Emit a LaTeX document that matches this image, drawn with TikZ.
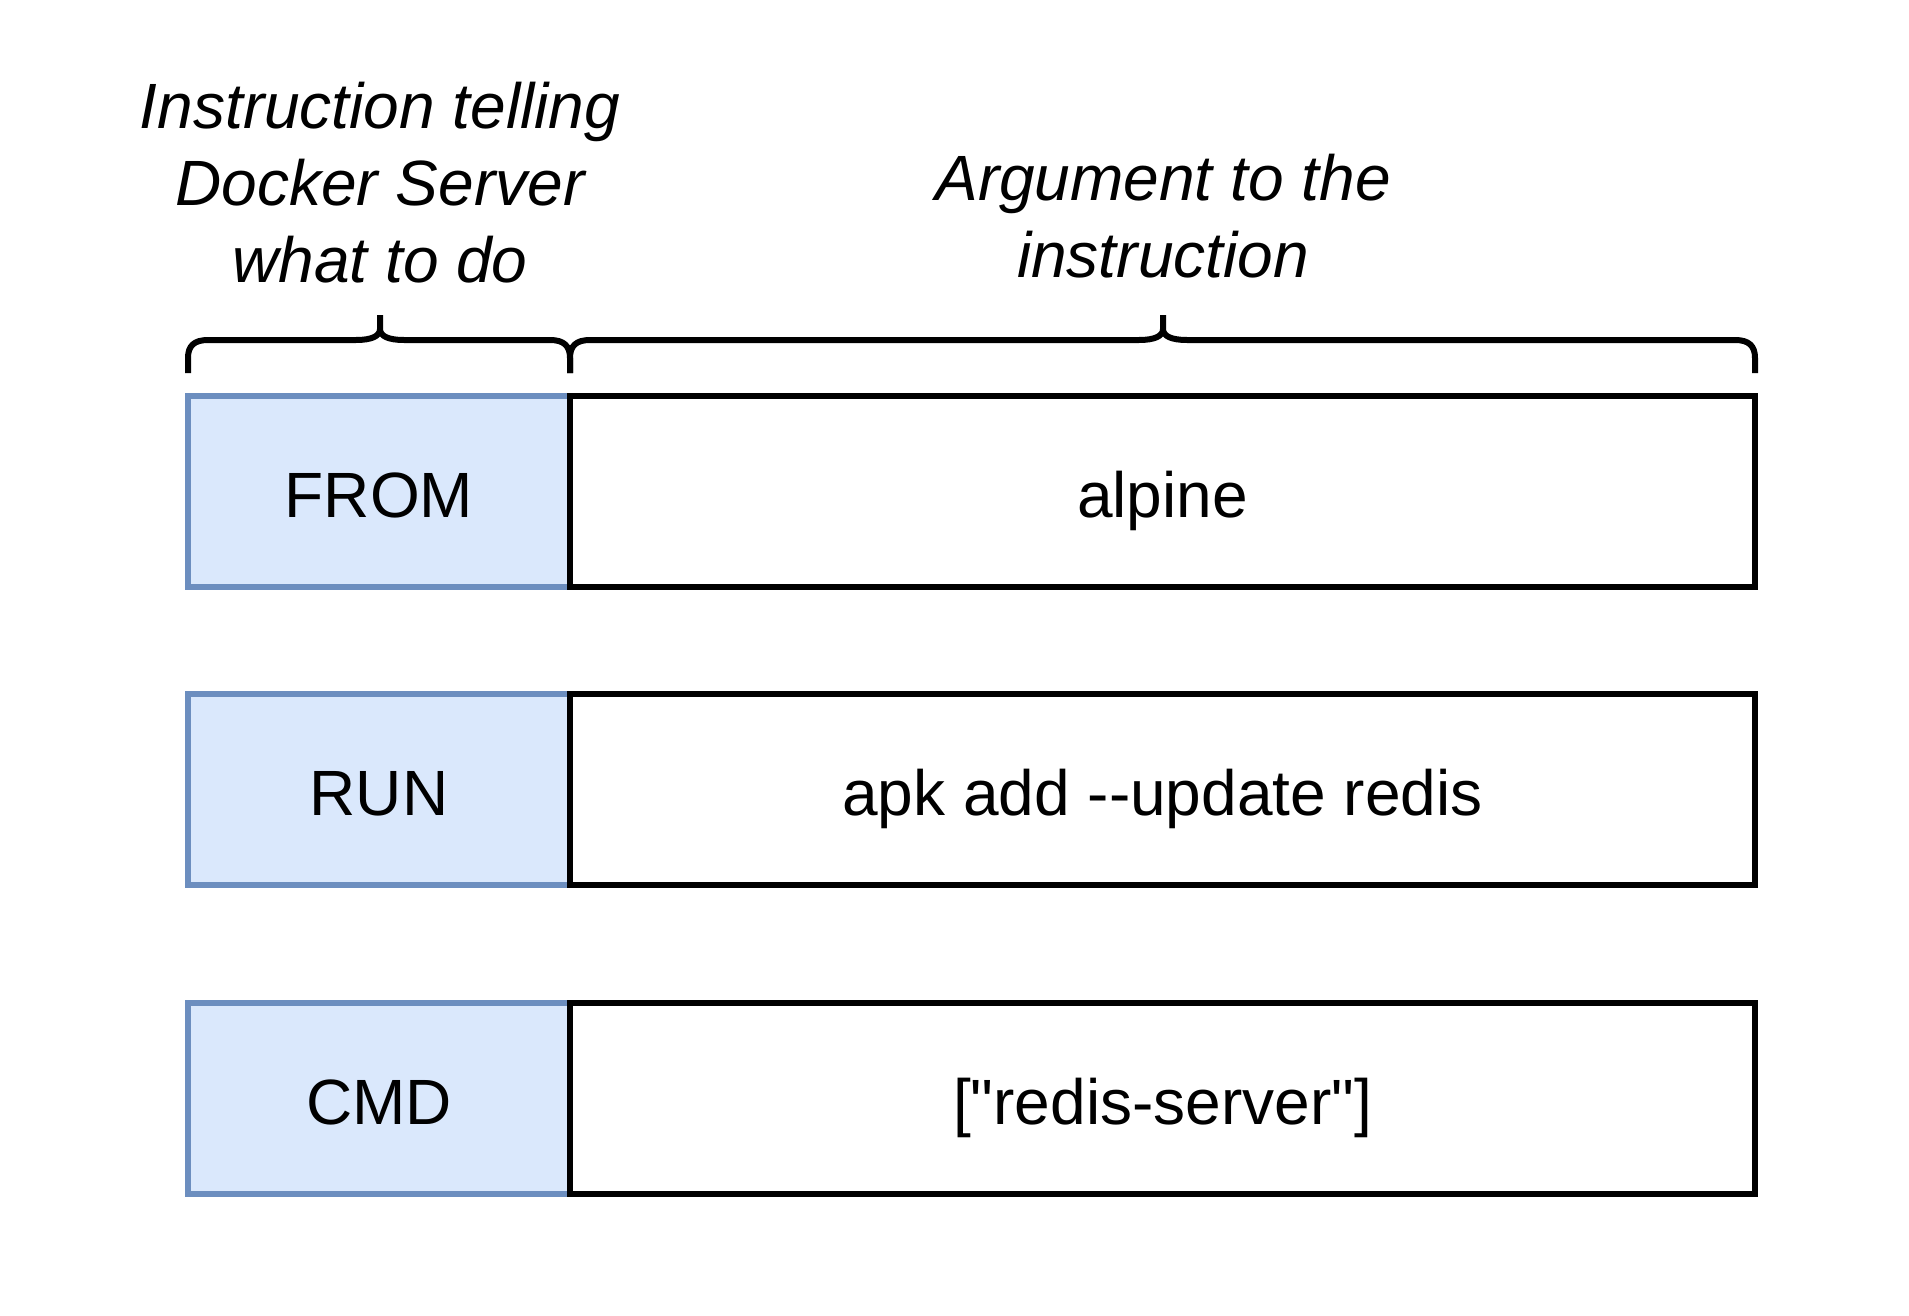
\documentclass[tikz,border=0pt]{standalone}
\usepackage{fontspec}
\setmainfont{Liberation Sans}[Ligatures=TeXOff]
\definecolor{instrfill}{HTML}{DAE8FC}
\definecolor{instrline}{HTML}{6C8EBF}
\begin{document}
\begin{tikzpicture}[x=1pt,y=-1pt,
  box/.style={rectangle, line width=6pt, minimum height=191pt, inner sep=0pt,
    text height=52pt, text depth=0pt, font=\fontsize{64}{77}\selectfont},
  instrbox/.style={box, draw=instrline, fill=instrfill, minimum width=382pt},
  argbox/.style={box, draw=black, fill=white, minimum width=1185pt},
  toplabel/.style={align=center, inner sep=0pt, anchor=south,
    font=\fontsize{64}{77}\selectfont\itshape},
  bracepath/.style={line width=6pt, draw=black}
]
\useasboundingbox[fill=white] (0,0) rectangle (1909,1316);

% top labels
\node[toplabel] (instrlabel) at (380,283) {Instruction telling\\Docker Server\\what to do};
\node[toplabel] (arglabel) at (1163,278) {Argument to the\\instruction};

% braces
\draw[bracepath] (188,373) -- (188,358) .. controls (188,346) and (194,340) .. (208,340)
  -- (356,340) .. controls (372,340) and (380,336) .. (380,329) -- (380,315)
  (380,329) .. controls (380,336) and (388,340) .. (404,340)
  -- (550,340) .. controls (564,340) and (570,346) .. (570,358) -- (570,373);
\draw[bracepath] (570,373) -- (570,358) .. controls (570,346) and (576,340) .. (590,340)
  -- (1139,340) .. controls (1155,340) and (1163,336) .. (1163,329) -- (1163,315)
  (1163,329) .. controls (1163,336) and (1171,340) .. (1187,340)
  -- (1735,340) .. controls (1749,340) and (1755,346) .. (1755,358) -- (1755,373);

% rows
\node[instrbox] (from) at (379,491.5) {FROM};
\node[argbox] (alpine) at (1162.5,491.5) {alpine};
\node[instrbox] (run) at (379,789.5) {RUN};
\node[argbox] (apk) at (1162.5,789.5) {apk add --update redis};
\node[instrbox] (cmd) at (379,1098.5) {CMD};
\node[argbox] (redis) at (1162.5,1098.5) {["redis-server"]};
\end{tikzpicture}
\end{document}
